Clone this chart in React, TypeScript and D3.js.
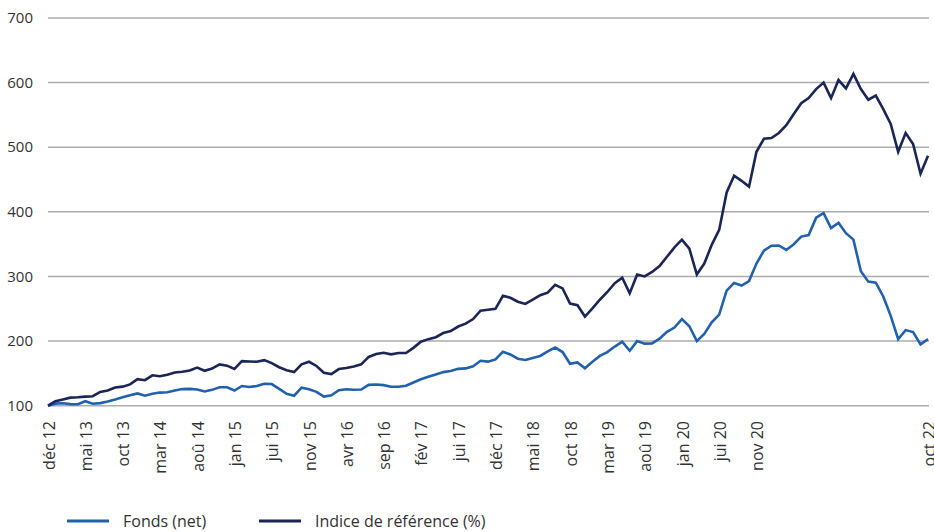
import React, { useEffect, useRef } from "react";
import * as d3 from "d3";

// monthly values, déc 12 -> oct 22 (base 100)
const fonds = [
  100, 103.2, 103.7, 102.5, 102.3, 107, 103, 104, 106.5, 109.5,
  113, 116, 119, 115.5, 118.5, 120.3, 120.7, 123.5, 125.7, 126,
  125, 122, 124.5, 128.5, 128.5, 123.5, 130.5, 129, 130.5, 134,
  133.5, 126, 118.5, 115.5, 128, 125.5, 121.5, 114, 116, 124,
  125.5, 124.6, 125.1, 132.3, 132.8, 131.8, 129.4, 129.4, 130.9, 136,
  141, 144.8, 148.4, 152, 153.8, 157, 157.7, 161, 169.5, 168.2,
  171.6, 183.5, 179.3, 172.7, 170.7, 174, 177, 184.2, 190, 183,
  165, 167, 158, 168, 177, 183, 191.5, 199, 185, 200,
  196, 196.5, 203.8, 214.3, 221, 234, 223, 200, 211, 229,
  241, 278, 290, 286, 292.8, 320, 340, 347.5, 348, 341,
  350, 361.7, 364, 391, 398, 375, 383, 367, 357, 308,
  292, 290.4, 269, 239, 203, 217, 214, 195, 203
];

const indice = [
  100, 107, 109.7, 112.5, 113, 114, 114.7, 121.4, 123.5, 128.2,
  129.5, 133, 141, 139.5, 147, 145.5, 148, 151.5, 152.5, 154.5,
  159, 154, 157.5, 164, 162, 157, 169, 168.5, 168, 170.5,
  166, 159.5, 155, 152, 164, 168, 161.5, 151, 149, 156.7,
  158.4, 160.6, 164, 175.5, 180, 182, 179.5, 181.5, 181.5, 189.5,
  199, 203, 206, 212.5, 215.5, 222.5, 227, 234, 247, 248.5,
  250, 270, 267, 261, 257.5, 264, 271, 275, 287, 281.5,
  258, 255.5, 238, 250.5, 264, 276, 289.5, 298, 274, 303,
  300, 307, 316, 330.5, 345, 357, 343, 303, 320, 349,
  372, 430, 456, 448, 439, 493, 513, 514.3, 522, 534,
  551.5, 568, 576, 590, 600, 576, 604, 591, 613.5, 590,
  573.5, 580, 559, 536, 493, 522, 505, 459, 487
];

const tickIndex = [0, 5, 10, 15, 20, 25, 30, 35, 40, 45, 50, 55, 60, 65, 70, 75, 80, 85, 90, 95, 118];
const tickLabels = [
  "déc 12", "mai 13", "oct 13", "mar 14", "aoû 14", "jan 15", "jui 15", "nov 15",
  "avr 16", "sep 16", "fév 17", "jui 17", "déc 17", "mai 18", "oct 18", "mar 19",
  "aoû 19", "jan 20", "jui 20", "nov 20", "oct 22"
];
const yTicks = [100, 200, 300, 400, 500, 600, 700];

const seriesNames = ["Fonds (net)", "Indice de référence (%)"];
const colors = ["#2161ad", "#1b2656"];

const App = () => {
  const visual = useRef(null);

  useEffect(() => {
    document.body.style.margin = "0";
    const width = 934;
    const height = 532;
    const font = "'Open Sans', sans-serif";

    const x = d3.scaleLinear().domain([0, fonds.length - 1]).range([48, 928]);
    const y = d3.scaleLinear().domain([100, 700]).range([405.7, 18]);

    const svg = d3.select(visual.current).attr("width", width).attr("height", height);
    svg.selectAll("*").remove();

    // grid
    svg
      .append("g")
      .selectAll("line")
      .data(yTicks)
      .join("line")
      .attr("x1", 48)
      .attr("x2", 929)
      .attr("y1", d => y(d))
      .attr("y2", d => y(d))
      .attr("stroke", "#ababab")
      .attr("stroke-width", 1.5);

    svg
      .append("g")
      .selectAll("text")
      .data(yTicks)
      .join("text")
      .attr("x", 33)
      .attr("y", d => y(d))
      .attr("dy", "0.35em")
      .attr("text-anchor", "end")
      .attr("font-family", font)
      .attr("font-size", 15)
      .attr("fill", "#333")
      .text(d => d);

    // x labels
    svg
      .append("g")
      .selectAll("text")
      .data(tickIndex)
      .join("text")
      .attr("transform", d => `translate(${x(d) + 1},421) rotate(-90)`)
      .attr("dy", "0.35em")
      .attr("text-anchor", "end")
      .attr("font-family", font)
      .attr("font-size", 16)
      .attr("fill", "#333")
      .text((d, i) => tickLabels[i]);

    const line = d3
      .line<number>()
      .x((d, i) => x(i))
      .y(d => y(d));

    [fonds, indice].forEach((s, k) => {
      svg
        .append("path")
        .datum(s)
        .attr("d", line)
        .attr("fill", "none")
        .attr("stroke", colors[k])
        .attr("stroke-width", 2.6);
    });

    // legend
    const legendX = [67, 259];
    const lg = svg.append("g");
    seriesNames.forEach((name, k) => {
      lg.append("line")
        .attr("x1", legendX[k])
        .attr("x2", legendX[k] + 42)
        .attr("y1", 521)
        .attr("y2", 521)
        .attr("stroke", colors[k])
        .attr("stroke-width", 3);
      lg.append("text")
        .attr("x", legendX[k] + 56)
        .attr("y", 521)
        .attr("dy", "0.35em")
        .attr("font-family", font)
        .attr("font-size", 16)
        .attr("fill", "#333")
        .text(name);
    });
  }, []);

  return <svg ref={visual} style={{ display: "block" }} />;
};

export default App;
